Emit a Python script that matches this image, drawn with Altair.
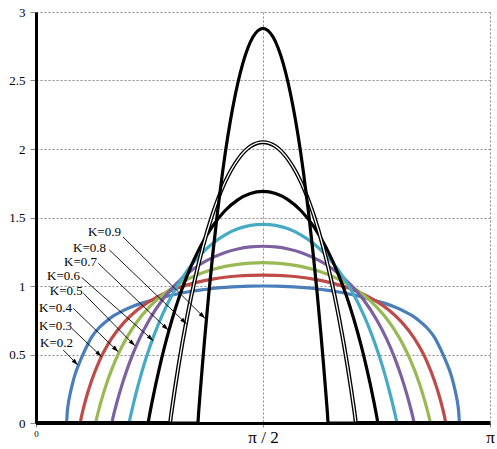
import math
import altair as alt
import pandas as pd

# ---- series (x in degrees, 0..180 = 0..pi) ----
deg_02 = [0, 12.1, 12.4, 12.8, 13.5, 14.5, 15.5, 17, 18.3, 20, 22, 25, 28, 31, 34, 38, 42, 46, 50, 55, 60, 65, 70, 75, 80, 85, 90,
          95, 100, 105, 110, 115, 120, 125, 130, 134, 138, 142, 146, 149, 152, 155, 158, 160, 161.7, 163, 164.5, 165.5, 166.5, 167.2, 167.6, 167.9, 180]
val_02 = [0, 0, 0.08, 0.14, 0.21, 0.29, 0.355, 0.43, 0.487, 0.555, 0.625, 0.695, 0.745, 0.785, 0.815, 0.848, 0.875, 0.897, 0.917, 0.938, 0.956, 0.970, 0.982, 0.990, 0.996, 0.999, 1.0,
          0.999, 0.996, 0.990, 0.982, 0.970, 0.956, 0.938, 0.917, 0.897, 0.875, 0.848, 0.815, 0.785, 0.745, 0.695, 0.625, 0.555, 0.487, 0.43, 0.355, 0.29, 0.21, 0.14, 0.08, 0, 0]

deg_03 = [0, 17.46, 18, 18.5, 19, 20, 22, 25, 30, 35, 40, 45, 50, 55, 60, 65, 70, 75, 80, 85, 90,
          95, 100, 105, 110, 115, 120, 125, 130, 135, 140, 145, 150, 155, 158, 160, 161, 161.5, 162, 162.54, 180]
val_03 = [0, 0, 0.045, 0.084, 0.121, 0.190, 0.307, 0.448, 0.617, 0.736, 0.823, 0.888, 0.939, 0.978, 1.008, 1.032, 1.050, 1.064, 1.073, 1.078, 1.080,
          1.078, 1.073, 1.064, 1.050, 1.032, 1.008, 0.978, 0.939, 0.888, 0.823, 0.736, 0.617, 0.448, 0.307, 0.190, 0.121, 0.084, 0.045, 0, 0]

deg_04 = [0, 23.58, 24, 24.5, 25, 26, 28, 30, 33, 36, 40, 45, 50, 55, 60, 65, 70, 75, 80, 85, 90,
          95, 100, 105, 110, 115, 120, 125, 130, 135, 140, 144, 147, 150, 152, 154, 155, 155.5, 156, 156.42, 180]
val_04 = [0, 0, 0.032, 0.069, 0.104, 0.171, 0.289, 0.390, 0.518, 0.623, 0.737, 0.847, 0.932, 0.998, 1.049, 1.089, 1.120, 1.143, 1.158, 1.167, 1.170,
          1.167, 1.158, 1.143, 1.120, 1.089, 1.049, 0.998, 0.932, 0.847, 0.737, 0.623, 0.518, 0.390, 0.289, 0.171, 0.104, 0.069, 0.032, 0, 0]

deg_05 = [0, 30, 30.5, 31, 32, 34, 36, 38, 41, 45, 50, 55, 60, 65, 70, 75, 80, 85, 90,
          95, 100, 105, 110, 115, 120, 125, 130, 135, 139, 142, 144, 146, 148, 149, 149.5, 150, 180]
val_05 = [0, 0, 0.038, 0.075, 0.146, 0.273, 0.385, 0.485, 0.614, 0.756, 0.896, 1.005, 1.090, 1.157, 1.207, 1.245, 1.270, 1.285, 1.290,
          1.285, 1.270, 1.245, 1.207, 1.157, 1.090, 1.005, 0.896, 0.756, 0.614, 0.485, 0.385, 0.273, 0.146, 0.075, 0.038, 0, 0]

deg_06 = [0, 36.87, 37.3, 37.8, 38.5, 40, 42, 44, 47, 50, 55, 60, 65, 70, 75, 80, 85, 90,
          95, 100, 105, 110, 115, 120, 125, 130, 133, 136, 138, 140, 141.5, 142.2, 142.7, 143.13, 180]
val_06 = [0, 0, 0.036, 0.076, 0.131, 0.241, 0.375, 0.494, 0.651, 0.786, 0.970, 1.114, 1.225, 1.310, 1.373, 1.417, 1.442, 1.450,
          1.442, 1.417, 1.373, 1.310, 1.225, 1.114, 0.970, 0.786, 0.651, 0.494, 0.375, 0.241, 0.131, 0.076, 0.036, 0, 0]

deg_07 = [0, 44.43, 44.8, 45.3, 46, 47.5, 49, 51, 54, 57, 60, 65, 70, 75, 80, 85, 90,
          95, 100, 105, 110, 115, 120, 123, 126, 129, 131, 132.5, 134, 134.7, 135.2, 135.57, 180]
val_07 = [0, 0, 0.037, 0.086, 0.152, 0.285, 0.408, 0.559, 0.759, 0.932, 1.080, 1.282, 1.437, 1.551, 1.629, 1.675, 1.690,
          1.675, 1.629, 1.551, 1.437, 1.282, 1.080, 0.932, 0.759, 0.559, 0.408, 0.285, 0.152, 0.086, 0.037, 0, 0]

deg_08 = [0, 53.13, 53.5, 54, 55, 56.5, 58, 60, 63, 66, 70, 75, 80, 85, 90,
          95, 100, 105, 110, 114, 117, 120, 122, 123.5, 125, 126, 126.5, 126.87, 180]
val_08 = [0, 0, 0.049, 0.114, 0.240, 0.417, 0.581, 0.782, 1.047, 1.274, 1.524, 1.761, 1.923, 2.019, 2.050,
          2.019, 1.923, 1.761, 1.524, 1.274, 1.047, 0.782, 0.581, 0.417, 0.240, 0.114, 0.049, 0, 0]

deg_09 = [0, 64.16, 64.5, 65, 66, 67, 68.5, 70, 72, 74, 76, 78, 80, 82, 84, 86, 88, 90,
          92, 94, 96, 98, 100, 102, 104, 106, 108, 110, 111.5, 113, 114, 115, 115.5, 115.84, 180]
val_09 = [0, 0, 0.083, 0.200, 0.427, 0.641, 0.942, 1.217, 1.546, 1.835, 2.087, 2.301, 2.480, 2.625, 2.737, 2.817, 2.864, 2.880,
          2.864, 2.817, 2.737, 2.625, 2.480, 2.301, 2.087, 1.835, 1.546, 1.217, 0.942, 0.641, 0.427, 0.200, 0.083, 0, 0]

series_keys = ["0.2", "0.3", "0.4", "0.5", "0.6", "0.7", "0.8", "0.9"]
series_deg = [deg_02, deg_03, deg_04, deg_05, deg_06, deg_07, deg_08, deg_09]
series_val = [val_02, val_03, val_04, val_05, val_06, val_07, val_08, val_09]
series_color = ["#4A7EBB", "#BE4B48", "#98B954", "#7D60A0", "#46AAC5", "#000000", "#000000", "#000000"]

# ---- annotation labels and arrows (data units) ----
label_text = ["K=0.2", "K=0.3", "K=0.4", "K=0.5", "K=0.6", "K=0.7", "K=0.8", "K=0.9"]
label_deg = [1.6, 1.2, 1.2, 5.5, 4.4, 11.1, 14.7, 20.6]
label_val = [0.586, 0.708, 0.839, 0.966, 1.073, 1.175, 1.277, 1.394]
arrow_deg0 = [10.8, 14.2, 14.8, 18.8, 18.1, 24.7, 29.1, 34.5]
arrow_val0 = [0.533, 0.691, 0.837, 0.947, 1.063, 1.166, 1.263, 1.358]
arrow_deg1 = [16.6, 26.0, 32.6, 39.2, 46.5, 52.4, 59.7, 67.0]
arrow_val1 = [0.423, 0.484, 0.520, 0.564, 0.601, 0.679, 0.723, 0.764]

x_ticks = [0, 90, 180]
y_ticks = [0, 0.5, 1, 1.5, 2, 2.5, 3]

W, H = 454, 411
XMAX, YMAX = 180, 3

x_axis = alt.Axis(
    values=x_ticks, title=None, grid=True,
    labelExpr="datum.value == 0 ? '0' : (datum.value == 90 ? 'π / 2' : 'π')",
    labelFontSize={"condition": {"test": "datum.value == 0", "value": 9}, "value": 17},
    labelFont="Liberation Serif", labelColor="black", labelPadding=2,
    labelBaseline="top", labelFlush=False, labelOverlap=False,
    tickSize=4, tickColor="#888888",
    domainColor="black", domainWidth=3,
    gridColor="#8a8a8a", gridDash=[2, 2], gridWidth=1,
)
y_axis = alt.Axis(
    values=y_ticks, title=None, grid=True, format="~g",
    labelFont="Liberation Serif", labelFontSize=13, labelColor="black", labelPadding=5,
    tickSize=6, tickColor="#888888",
    domainColor="black", domainWidth=3,
    gridColor="#8a8a8a", gridDash=[2, 2], gridWidth=1,
)
x_scale = alt.Scale(domain=[0, XMAX], nice=False, zero=False)
y_scale = alt.Scale(domain=[0, YMAX], nice=False)

X = alt.X("deg:Q", scale=x_scale, axis=x_axis)
Y = alt.Y("val:Q", scale=y_scale, axis=y_axis)

layers = []
for k, d, v, c in zip(series_keys, series_deg, series_val, series_color):
    df = pd.DataFrame({"deg": d, "val": v})
    base = alt.Chart(df)
    if k == "0.8":
        layers.append(base.mark_line(color="black", strokeWidth=4, interpolate="monotone").encode(x=X, y=Y))
        layers.append(base.mark_line(color="white", strokeWidth=1.3, interpolate="monotone").encode(x=X, y=Y))
    else:
        layers.append(base.mark_line(color=c, strokeWidth=3.2, interpolate="monotone").encode(x=X, y=Y))

# arrows
angles = []
for a0, v0, a1, v1 in zip(arrow_deg0, arrow_val0, arrow_deg1, arrow_val1):
    dx = (a1 - a0) * W / XMAX
    dy = (v0 - v1) * H / YMAX
    ang = math.degrees(math.atan2(dx, -dy)) % 360
    angles.append(ang)

arr_df = pd.DataFrame({"deg": arrow_deg0, "val": arrow_val0, "deg2": arrow_deg1, "val2": arrow_val1,
                       "tdeg": arrow_deg1, "tval": arrow_val1, "ang": angles})
layers.append(alt.Chart(arr_df).mark_rule(color="black", strokeWidth=0.9).encode(
    x=X, y=Y, x2="deg2:Q", y2="val2:Q"))
layers.append(alt.Chart(arr_df).mark_point(
    shape="M0,0 L-0.32,1 L0.32,1 Z", filled=True, color="black", opacity=1, size=180, strokeWidth=0
).encode(
    x=alt.X("tdeg:Q", scale=x_scale, axis=x_axis),
    y=alt.Y("tval:Q", scale=y_scale, axis=y_axis),
    angle=alt.Angle("ang:Q", scale=None),
))

lab_df = pd.DataFrame({"deg": label_deg, "val": label_val, "text": label_text})
layers.append(alt.Chart(lab_df).mark_text(
    align="left", baseline="middle", font="Liberation Serif", fontSize=13, color="black"
).encode(x=X, y=Y, text="text:N"))

chart = alt.layer(*layers).properties(
    width=W, height=H,
    padding={"left": 36, "top": 12, "right": 7, "bottom": 26},
    autosize=alt.AutoSizeParams(type="none"),
    background="white",
).configure_view(stroke=None)

chart.save("out.html", embed_options={"renderer": "svg", "actions": False})
